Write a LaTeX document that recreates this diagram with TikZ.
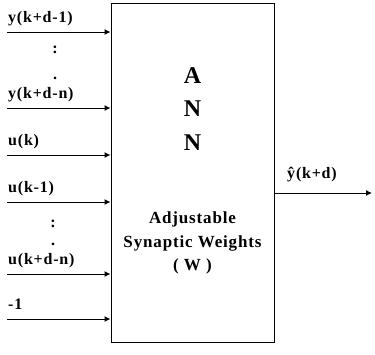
\documentclass[tikz,border=0pt]{standalone}
\usepackage{fontspec}
\setmainfont[LetterSpace=5]{Liberation Serif}
\usetikzlibrary{arrows.meta}

\tikzset{
  sigarrow/.style={-{Latex[length=6pt,width=6pt]}, line width=1pt},
  siglabel/.style={anchor=base west, inner sep=0pt, font=\fontsize{16}{18}\selectfont\bfseries},
  dotlabel/.style={anchor=base, inner sep=0pt, font=\fontsize{16}{18}\selectfont\bfseries},
  annlabel/.style={anchor=base, inner sep=0pt, font=\fontsize{24}{26}\selectfont\bfseries},
  wlabel/.style={anchor=base, inner sep=0pt, font=\fontsize{17}{19}\selectfont\bfseries},
}

\begin{document}
\begin{tikzpicture}[x=1pt,y=-1pt]
  \useasboundingbox (0,0) rectangle (375,354);
  % network block
  \node[draw, line width=1pt, minimum width=163pt, minimum height=339pt, inner sep=0pt] (ann) at (192.5,172.5) {};
  % inputs
  \foreach \y/\txt [count=\i] in {32/y(k+d-1), 108/y(k+d-n), 155/u(k), 202/u(k-1), 274/u(k+d-n), 319/-1} {
    \coordinate (in\i) at (7,\y);
    \draw[sigarrow] (in\i) -- (in\i -| ann.west);
    \node[siglabel] (lab\i) at (8,\y-9.5) {\txt};
  }
  \node[dotlabel] (dotsa) at (55,53) {:};
  \node[dotlabel] (dotsb) at (55,79) {.};
  \node[dotlabel] (dotsc) at (53,227) {:};
  \node[dotlabel] (dotsd) at (53,245) {.};
  % text inside
  \node[annlabel] (a) at (192.5,83) {A};
  \node[annlabel] (n1) at (192.5,116) {N};
  \node[annlabel] (n2) at (192.5,150) {N};
  \node[wlabel] (adj) at (192.5,223) {Adjustable};
  \node[wlabel] (syn) at (192.5,247) {Synaptic Weights};
  \node[wlabel] (w) at (192.5,270) {( W )};
  % output
  \coordinate (out) at (372,193);
  \draw[sigarrow] (ann.east |- out) -- (out);
  \node[dotlabel] (yhat) at (312,178) {ŷ(k+d)};
\end{tikzpicture}
\end{document}
